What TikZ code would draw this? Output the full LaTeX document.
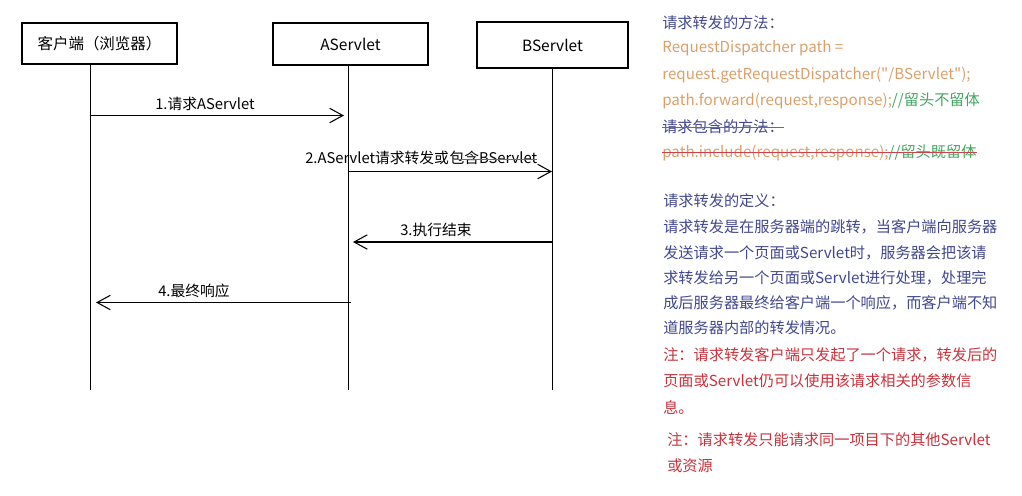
\documentclass[tikz,border=0pt]{standalone}
\usepackage{fontspec}
\setmainfont{Noto Sans CJK SC}[Ligatures=TeXOff]
\usepackage{xcolor}
\definecolor{cInfo}  {HTML}{41478F}
\definecolor{cCode}  {HTML}{DBA06A}
\definecolor{cCmt}   {HTML}{45A560}
\definecolor{cNote}  {HTML}{C8323C}
\definecolor{cStrike}{HTML}{D0404A}
\usepackage{tikz}
\usetikzlibrary{arrows.meta, positioning}
\tikzset{
  actor/.style  = {rectangle, draw, line width=0.75pt, minimum width=#1,
                   minimum height=1.05cm, inner sep=0pt,
                   font=\fontsize{11}{13}\selectfont},
  actor/.default = 3.875cm,
  life/.style   = {line width=0.75pt},
  msg/.style    = {-{Straight Barb[length=0.33cm, width=0.36cm]},
                   line width=0.75pt},
  lbl/.style    = {anchor=west, inner sep=0pt, text height=0.88em,
                   text depth=0.12em, font=\fontsize{10.5}{12}\selectfont},
  note/.style   = {anchor=west, inner sep=0pt, text height=0.88em,
                   text depth=0.12em, font=\fontsize{10.8}{13}\selectfont,
                   text=#1},
  note/.default = cInfo,
  strike/.style = {draw=cStrike, line width=0.7pt},
}

\begin{document}
\begin{tikzpicture}[x=0.025cm, y=-0.025cm]
  \useasboundingbox (0,0) rectangle (1022,495);

  %% Actors
  \node[actor, minimum height=1.025cm] (cli) at (99.5,43.5) {客户端（浏览器）};
  \node[actor]                         (srvA) at (350.5,44) {AServlet};
  \node[actor=3.775cm, minimum height=1.15cm] (srvB) at (552.5,45) {BServlet};

  %% Lifelines
  \coordinate (cliEnd)  at (90.5,390);
  \coordinate (srvAEnd) at (348.5,390);
  \coordinate (srvBEnd) at (552.5,390);
  \draw[life] (cli.south -| cliEnd)   -- (cliEnd);
  \draw[life] (srvA.south -| srvAEnd) -- (srvAEnd);
  \draw[life] (srvB.south -| srvBEnd) -- (srvBEnd);

  %% Messages
  \coordinate (req1s) at (90.5,115.5);  \coordinate (req1e) at (344,115.5);
  \coordinate (fwd2s) at (348.5,171.5); \coordinate (fwd2e) at (552,171.5);
  \coordinate (end3s) at (552.5,242);   \coordinate (end3e) at (353,242);
  \coordinate (rsp4s) at (351,302.5);   \coordinate (rsp4e) at (96,302.5);
  \draw[msg] (req1s) -- (req1e);
  \draw[msg] (fwd2s) -- (fwd2e);
  \draw[msg] (end3s) -- (end3e);
  \draw[msg] (rsp4s) -- (rsp4e);

  \node[lbl] (req1) at (155,104) {1.请求AServlet};
  \node[lbl] (fwd2) at (305,158) {2.AServlet请求转发或};
  \node[lbl, inner xsep=0pt] (fwd2b) at (fwd2.east) {包含BServlet};
  \node[lbl] (end3) at (400,230) {3.执行结束};
  \node[lbl] (rsp4) at (158,291) {4.最终响应};
  \draw[strike] ([xshift=2pt, yshift=-1pt]fwd2b.west) -- ([yshift=-1pt]fwd2b.east);

  %% Right column: methods
  \node[note]       (hdFwd) at (662,23)  {请求转发的方法：};
  \node[note=cCode] (fwd1)  at (662,47)  {RequestDispatcher path =};
  \node[note=cCode] (fwd2c) at (662,74)
        {request.getRequestDispatcher("/BServlet");};
  \node[note=cCode] (fwd3)  at (662,100)
        {path.forward(request,response);\textcolor{cCmt}{//留头不留体}};
  \node[note]       (hdInc) at (662,127) {请求包含的方法：};
  \node[note=cCode] (inc1)  at (662,152)
        {path.include(request,response);\textcolor{cCmt}{//留头既留体}};
  \draw[strike] (hdInc.west) -- (hdInc.east);
  \draw[strike] (inc1.west) -- (inc1.east);

  %% Right column: definition
  \node[note] (hdDef) at (663,201) {请求转发的定义：};
  \node[note] (def1)  at (663,227) {请求转发是在服务器端的跳转，当客户端向服务器};
  \node[note] (def2)  at (663,253) {发送请求一个页面或Servlet时，服务器会把该请};
  \node[note] (def3)  at (663,278) {求转发给另一个页面或Servlet进行处理，处理完};
  \node[note] (def4)  at (663,303) {成后服务器最终给客户端一个响应，而客户端不知};
  \node[note] (def5)  at (663,328) {道服务器内部的转发情况。};

  %% Notes
  \node[note=cNote] (nt1) at (663,355) {注：请求转发客户端只发起了一个请求，转发后的};
  \node[note=cNote] (nt2) at (663,381) {页面或Servlet仍可以使用该请求相关的参数信};
  \node[note=cNote] (nt3) at (663,408) {息。};
  \node[note=cNote] (nt4) at (667,440) {注：请求转发只能请求同一项目下的其他Servlet};
  \node[note=cNote] (nt5) at (667,466) {或资源};
\end{tikzpicture}
\end{document}
